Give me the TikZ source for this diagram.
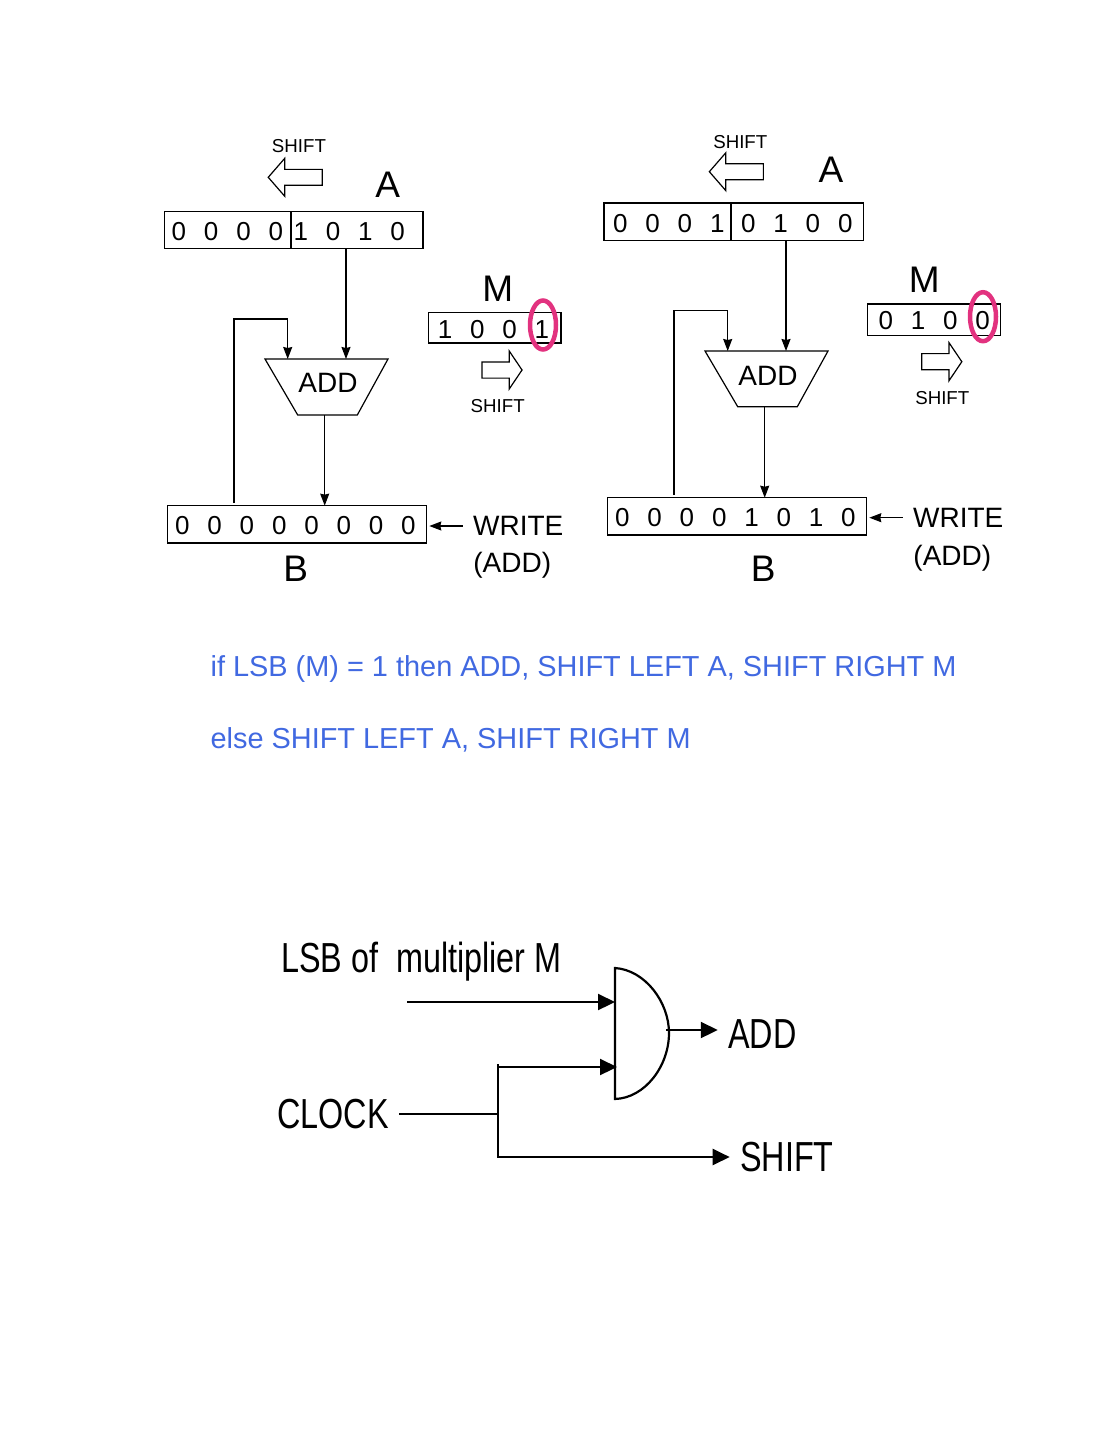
\documentclass[tikz,border=0pt]{standalone}
\usepackage{fontspec}
\setmainfont{Liberation Sans}
\newfontfamily\narrowfam[FakeStretch=0.77]{Liberation Sans}
\usetikzlibrary{arrows.meta,positioning,shapes.geometric,shapes.arrows}
\definecolor{lsbpink}{HTML}{E2327F}
\definecolor{noteblue}{HTML}{4169E1}
\newcommand{\bits}[2]{\hspace*{#1}\spaceskip=17.85pt\relax #2}

\begin{document}
\begin{tikzpicture}[
    x=1pt, y=-1pt,
    line width=1.2pt,
    >={Stealth[length=12pt,width=9pt,inset=1pt]},
    reg/.style 2 args={rectangle, draw=black, inner sep=0pt, outer sep=0pt, minimum height=#1, text width=#2, text height=20.6pt, text depth=0pt, align=left, font=\fontsize{26}{26}\selectfont},
    shiftleft/.style={single arrow, draw=black, shape border rotate=180, text height=14.7pt, text depth=0pt, minimum height=54pt, single arrow head extend=11pt, single arrow tip angle=98, inner sep=0pt},
    shiftright/.style={single arrow, draw=black, text height=15pt, text depth=0pt, minimum height=40pt, single arrow head extend=11pt, single arrow tip angle=112, inner sep=0pt},
    lsbring/.style={ellipse, draw=lsbpink, line width=4.5pt, minimum width=26pt, minimum height=49pt, inner sep=0pt},
    biglabel/.style={inner sep=0pt, font=\fontsize{37}{37}\selectfont},
    midlabel/.style={inner sep=0pt, font=\fontsize{28}{28}\selectfont},
    smalllabel/.style={inner sep=0pt, font=\fontsize{18.7}{18.7}\selectfont},
    note/.style={anchor=west, inner sep=0pt, text=noteblue, font=\fontsize{28.9}{28.9}\selectfont},
    gatelabel/.style={inner sep=0pt, font=\narrowfam\fontsize{42}{42}\selectfont},
    gateline/.style={line width=2.2pt, >={Stealth[length=17pt,width=16pt,inset=0pt]}}
]
\useasboundingbox (0,0) rectangle (1113,1440);

% left step
\node[smalllabel] (shiftA) at (299,146) {SHIFT};
\node[shiftleft] (arrowA) at (298.7,177.3) {};
\node[biglabel] (labelA) at (387.7,185) {A};
\node[reg={37.7pt}{126.3pt}] (aHi) at (227.85,230) {\bits{7pt}{0 0 0 0}};
\node[reg={37.7pt}{132pt}, right=0pt of aHi] (aLo) {\bits{2.5pt}{1 0 1 0}};
\node[biglabel] (labelM) at (497.7,289) {M};
\node[reg={30.7pt}{132.7pt}] (regM) at (494.65,327.7) {\bits{9.5pt}{1 0 0 1}};
\node[lsbring] (ring) at (543,325) {};
\node[shiftright] (arrowM) at (499.3,370) {};
\node[smalllabel] (shiftM) at (497.7,406) {SHIFT};
\node[midlabel] (add) at (328,383.3) {ADD};
\node[reg={37.3pt}{259pt}] (regB) at (297.2,524.3) {\bits{7.4pt}{0 0 0 0 0 0 0 0}};
\node[biglabel] (labelB) at (295.7,568.3) {B};
\node[midlabel, inner xsep=10pt] (write) at (518.3,526) {WRITE};
\node[midlabel] (addwrite) at (512.3,565.5) {(ADD)};
\coordinate (inA) at (346,359);
\coordinate (inB) at (287.7,359);
\coordinate (fbOut) at (234,503);
\coordinate (addOut) at (324.7,415);

\draw (265,359) -- (388,359) -- (357.3,415) -- (297.7,415) -- cycle;
\draw[->] (aLo.south -| inA) -- (inA);
\draw[->] (fbOut) |- (287.7,319) -- (inB);
\draw[->] (addOut) -- (regB.north -| addOut);
\draw[->, shorten >=2.6pt] (write.west) -- (write.west -| regB.east);

% right step
\node[smalllabel] (shiftA2) at (740.3,141.7) {SHIFT};
\node[shiftleft] (arrowA2) at (739.8,171.7) {};
\node[biglabel] (labelA2) at (831,170) {A};
\node[reg={37.7pt}{127pt}] (aHi2) at (667.5,221.85) {\bits{9.1pt}{0 0 0 1}};
\node[reg={37.7pt}{132.3pt}, right=0pt of aHi2] (aLo2) {\bits{10.1pt}{0 1 0 0}};
\node[biglabel] (labelM2) at (924.3,280) {M};
\node[reg={31.3pt}{133pt}] (regM2) at (934.2,319.65) {\bits{10.8pt}{0 1 0 0}};
\node[lsbring] (ring2) at (983,316.7) {};
\node[shiftright] (arrowM2) at (939.1,361.7) {};
\node[smalllabel] (shiftM2) at (942.3,398) {SHIFT};
\node[midlabel] (add2) at (768,375.7) {ADD};
\node[reg={37.3pt}{259.4pt}] (regB2) at (737,516.35) {\bits{7.8pt}{0 0 0 0 1 0 1 0}};
\node[biglabel] (labelB2) at (763.3,568.3) {B};
\node[midlabel, inner xsep=10pt] (write2) at (958.3,517.7) {WRITE};
\node[midlabel] (addwrite2) at (952.3,557.8) {(ADD)};
\coordinate (inA2) at (786,351);
\coordinate (inB2) at (727.7,351);
\coordinate (fbOut2) at (674,495);
\coordinate (addOut2) at (764.7,406.7);

\draw (705,351) -- (828,351) -- (797.3,406.7) -- (737.7,406.7) -- cycle;
\draw[->] (aLo2.south -| inA2) -- (inA2);
\draw[->] (fbOut2) |- (727.7,310.7) -- (inB2);
\draw[->] (addOut2) -- (regB2.north -| addOut2);
\draw[->, shorten >=2.6pt] (write2.west) -- (write2.west -| regB2.east);

% rule
\node[note] (rule1) at (210,669) {if LSB (M) = 1 then ADD, SHIFT LEFT A, SHIFT RIGHT M};
\node[note] (rule2) at (210,740) {else SHIFT LEFT A, SHIFT RIGHT M};

% control gate
\node[gatelabel] (lsb) at (421.5,962) {LSB of \ multiplier M};
\node[gatelabel, inner xsep=10pt] (clock) at (333,1114) {CLOCK};
\node[gatelabel, inner xsep=10pt] (addout) at (762.5,1034) {ADD};
\node[gatelabel, inner xsep=10pt] (shiftout) at (787,1157) {SHIFT};
\coordinate (lsbIn) at (407,1002);
\coordinate (gateA) at (615,1002);
\coordinate (gateB) at (617,1067);
\coordinate (gateOut) at (666,1030);
\coordinate (branch) at (498,1114);

\draw[line width=2.2pt] (615,968) .. controls (645,970) and (669,1002) .. (669,1033) .. controls (669,1066) and (645,1098) .. (615,1099) -- cycle;
\draw[gateline, ->] (lsbIn) -- (gateA);
\draw[gateline] (clock.east) -- (branch);
\draw[gateline, ->] (498,1064) |- (gateB);
\draw[gateline, ->] (498,1064) |- (shiftout.west);
\draw[gateline, ->] (gateOut) -- (addout.west |- gateOut);

\end{tikzpicture}
\end{document}
